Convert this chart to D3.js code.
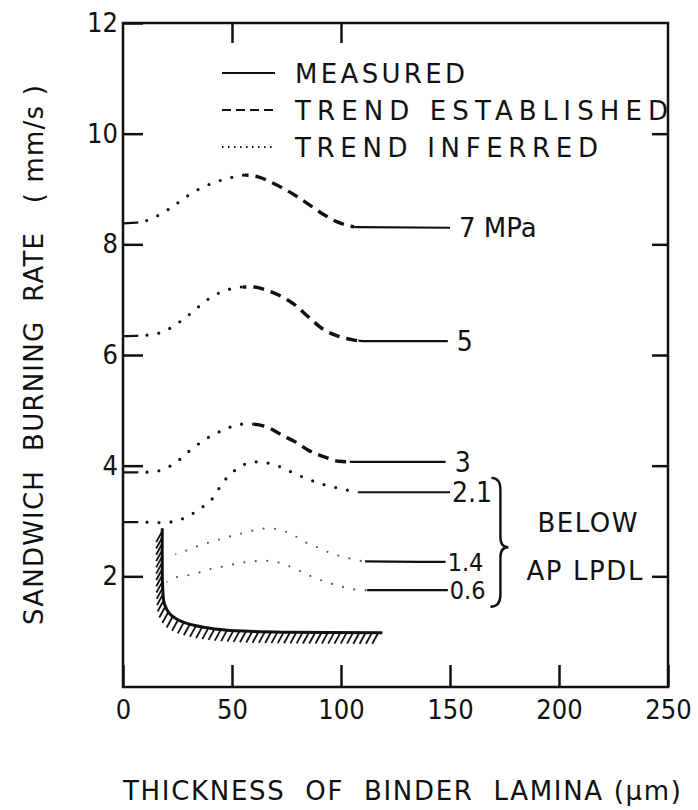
<!DOCTYPE html>
<html>
<head>
<meta charset="utf-8">
<script src="https://cdn.jsdelivr.net/npm/d3@7"></script>
<style>
  body { margin: 0; background: #fff; }
  svg text { font-family: "DejaVu Sans", sans-serif; fill: #111; white-space: pre; }
  .tick text, .num { font-family: "DejaVu Sans Condensed", "DejaVu Sans", sans-serif; font-stretch: condensed; }
</style>
</head>
<body>
<div id="chart"></div>
<script>
/* data: x = binder thickness (um), y = burning rate (mm/s) */
const curveLabels = ["7 MPa", "5", "3", "2.1", "1.4", "0.6"];

const curve7 = [[0, 8.38], [8, 8.4], [15, 8.5], [22, 8.66], [29, 8.86], [35, 9.0], [42, 9.12], [49, 9.2], [56, 9.25],
  [62, 9.22], [68, 9.12], [74, 9.0], [80, 8.86], [86, 8.7], [92, 8.54], [98, 8.41], [103, 8.34], [108, 8.31], [150, 8.3]];
const curve5 = [[0, 6.34], [8, 6.35], [15, 6.38], [20, 6.45], [26, 6.6], [32, 6.78], [38, 6.98], [43, 7.1], [49, 7.19],
  [55, 7.23], [60, 7.23], [66, 7.17], [73, 7.05], [79, 6.9], [85, 6.69], [92, 6.46], [98, 6.35], [106, 6.27], [110, 6.25], [149, 6.25]];
const curve3 = [[0, 3.88], [8, 3.88], [14, 3.89], [20, 3.96], [25, 4.08], [30, 4.25], [36, 4.43], [41, 4.55], [47, 4.66],
  [54, 4.75], [59, 4.75], [66, 4.7], [73, 4.55], [79, 4.43], [85, 4.28], [93, 4.15], [99, 4.08], [105, 4.07], [148, 4.07]];
const curve21 = [[0, 2.98], [10, 2.98], [18, 2.97], [24, 3.0], [28, 3.05], [33, 3.16], [38, 3.3], [42, 3.45], [45, 3.65],
  [50, 3.87], [55, 4.01], [60, 4.07], [66, 4.05], [72, 3.98], [78, 3.87], [84, 3.77], [91, 3.67], [98, 3.6], [104, 3.55],
  [108, 3.52], [150, 3.52]];
const curve14 = [[24, 2.4], [30, 2.48], [36, 2.57], [42, 2.64], [47, 2.7], [55, 2.78], [61, 2.84], [67, 2.87], [72, 2.84],
  [78, 2.75], [83, 2.63], [89, 2.53], [94, 2.44], [101, 2.35], [107, 2.3], [111, 2.27], [148, 2.26]];
const curve06 = [[20, 1.9], [25, 1.99], [30, 2.02], [36, 2.08], [42, 2.15], [48, 2.19], [53, 2.24], [58, 2.26], [63, 2.28],
  [68, 2.28], [72, 2.24], [77, 2.17], [82, 2.08], [87, 1.99], [96, 1.86], [103, 1.79], [109, 1.75], [112, 1.75], [149, 1.75]];

const curves = [curve7, curve5, curve3, curve21, curve14, curve06];
const measuredStartEnd = [7, 7, 7, 7, 0, 0];   // short measured bit at x = 0
const inferredEnd = [56, 55, 60, 108, 111, 112];
const establishedEnd = [106, 108, 104, 108, 111, 112];

// AP low pressure deflagration limit boundary (hatched)
const boundary = [[18, 2.87], [18, 2.2], [18.2, 1.8], [19, 1.5], [21.5, 1.32], [26, 1.2], [33, 1.11], [42, 1.05], [55, 1.01],
  [75, 0.99], [119, 0.98]];
const braceRange = [1.45, 3.78];

const xTicks = [0, 50, 100, 150, 200, 250];
const yTicks = [2, 4, 6, 8, 10, 12];
const legendItems = ["MEASURED", "TREND ESTABLISHED", "TREND INFERRED"];

const width = 698, height = 810;
const plot = { left: 123, right: 668, top: 23, bottom: 687 };

const svg = d3.select("#chart").append("svg")
  .attr("width", width)
  .attr("height", height);

const x = d3.scaleLinear().domain([0, 250]).range([plot.left, plot.right]);
const y = d3.scaleLinear().domain([0, 12]).range([plot.bottom, plot.top]);

/* frame + ticks */
svg.append("rect")
  .attr("x", plot.left).attr("y", plot.top)
  .attr("width", plot.right - plot.left).attr("height", plot.bottom - plot.top)
  .attr("fill", "none").attr("stroke", "#111").attr("stroke-width", 2.5);

svg.append("g")
  .attr("transform", `translate(0,${plot.bottom})`)
  .call(d3.axisBottom(x).tickValues(xTicks).tickSize(-22).tickPadding(13));
svg.append("g")
  .attr("transform", `translate(${plot.left},0)`)
  .call(d3.axisLeft(y).tickValues(yTicks).tickSize(-20).tickPadding(5));
svg.append("g")
  .attr("transform", `translate(0,${plot.top})`)
  .call(d3.axisTop(x).tickValues([50, 100]).tickSize(-20).tickFormat(""));
svg.append("g")
  .attr("transform", `translate(${plot.right},0)`)
  .call(d3.axisRight(y).tickValues([2, 4, 6, 8, 10]).tickSize(-16).tickFormat(""));

svg.selectAll(".domain").remove();
svg.selectAll(".tick line").attr("stroke", "#111").attr("stroke-width", 2.5);
svg.selectAll(".tick text").attr("font-size", 27).attr("fill", "#111");

/* curves */
const line = d3.line().x(d => x(d[0])).y(d => y(d[1])).curve(d3.curveMonotoneX);
const defs = svg.append("defs");

function clip(id, ranges) {
  const cp = defs.append("clipPath").attr("id", id);
  ranges.forEach(([a, b]) => {
    cp.append("rect")
      .attr("x", x(a)).attr("y", plot.top)
      .attr("width", Math.max(0, x(b) - x(a))).attr("height", plot.bottom - plot.top);
  });
}

curves.forEach((c, i) => {
  const first = c[0][0], last = c[c.length - 1][0];
  const bold = i < 4;
  const solidRanges = [[establishedEnd[i], last + 2]];
  if (measuredStartEnd[i] > 0) solidRanges.push([first - 2, measuredStartEnd[i]]);
  clip("solid" + i, solidRanges);
  clip("dot" + i, [[Math.max(first, measuredStartEnd[i]), inferredEnd[i]]]);
  clip("dash" + i, [[inferredEnd[i], establishedEnd[i]]]);

  svg.append("path").attr("d", line(c)).attr("clip-path", `url(#solid${i})`)
    .attr("fill", "none").attr("stroke", "#111").attr("stroke-width", 2.2);
  svg.append("path").attr("d", line(c)).attr("clip-path", `url(#dot${i})`)
    .attr("fill", "none").attr("stroke", bold ? "#111" : "#555")
    .attr("stroke-width", bold ? 3.2 : 2.2).attr("stroke-linecap", "round")
    .attr("stroke-dasharray", bold ? "0,12" : "0,11.5");
  svg.append("path").attr("d", line(c)).attr("clip-path", `url(#dash${i})`)
    .attr("fill", "none").attr("stroke", "#111").attr("stroke-width", 3.4)
    .attr("stroke-dasharray", "11,7");

  const end = c[c.length - 1];
  svg.append("text")
    .attr("class", i === 0 ? null : "num")
    .attr("x", x(end[0]) + (i < 3 ? 9 : 2))
    .attr("y", y(end[1]))
    .attr("dy", "0.36em")
    .attr("font-size", i === 0 ? 26 : (i > 3 ? 25 : 28))
    .text(curveLabels[i]);
});

/* hatched boundary */
const bLine = d3.line().x(d => x(d[0])).y(d => y(d[1])).curve(d3.curveCatmullRom.alpha(0.5));
const bPath = svg.append("path").attr("d", bLine(boundary))
  .attr("fill", "none").attr("stroke", "#111").attr("stroke-width", 3);
const node = bPath.node();
const total = node.getTotalLength();
const hatch = [];
for (let l = 3; l < total - 1; l += 6.3) hatch.push(node.getPointAtLength(l));
svg.append("g").selectAll("line").data(hatch).join("line")
  .attr("x1", d => d.x).attr("y1", d => d.y)
  .attr("x2", d => d.x - 6).attr("y2", d => d.y + 11)
  .attr("stroke", "#111").attr("stroke-width", 1.8);

/* brace + note */
const bx = x(169), yTop = y(braceRange[1]), yBot = y(braceRange[0]), yMid = (yTop + yBot) / 2 + 5;
const bp = d3.path();
bp.moveTo(bx, yTop);
bp.quadraticCurveTo(bx + 9, yTop, bx + 9, yTop + 12);
bp.lineTo(bx + 9, yMid - 10);
bp.quadraticCurveTo(bx + 9, yMid, bx + 17, yMid);
bp.quadraticCurveTo(bx + 9, yMid, bx + 9, yMid + 10);
bp.lineTo(bx + 9, yBot - 12);
bp.quadraticCurveTo(bx + 9, yBot, bx - 1, yBot);
svg.append("path").attr("d", bp.toString())
  .attr("fill", "none").attr("stroke", "#111").attr("stroke-width", 2.4);

svg.append("text").attr("x", bx + 46).attr("y", yMid - 15)
  .attr("font-size", 26).attr("textLength", 100).attr("lengthAdjust", "spacing").text("BELOW");
svg.append("text").attr("x", bx + 35).attr("y", yMid + 33)
  .attr("font-size", 26).attr("textLength", 116).attr("lengthAdjust", "spacing").text("AP LPDL");

/* legend */
const legendDash = ["none", "9,5", "1.5,4.5"];
const legendLen = [170, 373, 303];
legendItems.forEach((t, i) => {
  const ly = 73 + i * 37;
  svg.append("line")
    .attr("x1", 222).attr("x2", 275).attr("y1", ly).attr("y2", ly)
    .attr("stroke", "#111").attr("stroke-width", 2)
    .attr("stroke-dasharray", legendDash[i]);
  svg.append("text")
    .attr("x", 295).attr("y", ly + 10)
    .attr("font-size", 26)
    .attr("textLength", legendLen[i]).attr("lengthAdjust", "spacing")
    .text(t);
});

/* axis titles */
svg.append("text")
  .attr("x", plot.left).attr("y", 800)
  .attr("font-size", 26)
  .attr("textLength", 558).attr("lengthAdjust", "spacing")
  .text("THICKNESS  OF  BINDER  LAMINA (\u03bcm)");

svg.append("text")
  .attr("transform", "translate(43,355) rotate(-90)")
  .attr("text-anchor", "middle")
  .attr("font-size", 26)
  .attr("textLength", 540).attr("lengthAdjust", "spacing")
  .text("SANDWICH  BURNING  RATE   ( mm/s )");
</script>
</body>
</html>
